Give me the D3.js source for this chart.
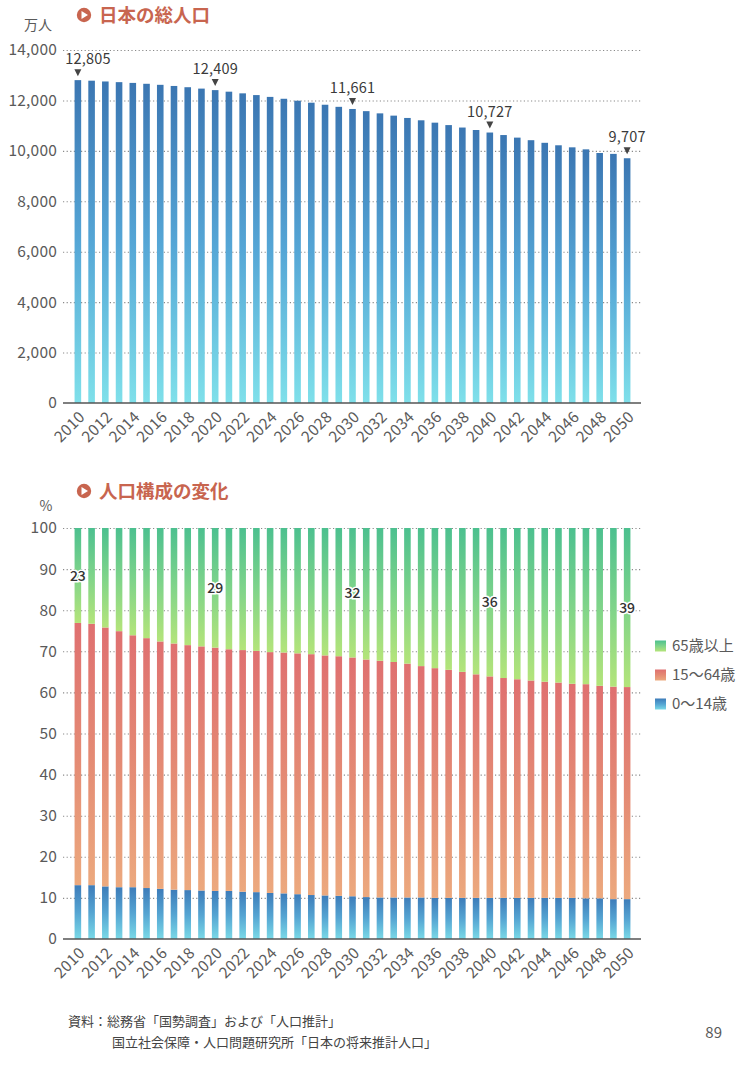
<!DOCTYPE html>
<html>
<head>
<meta charset="utf-8">
<script src="https://cdn.jsdelivr.net/npm/d3@7/dist/d3.min.js"></script>
<style>
	body { margin: 0; background: #fff; }
	svg text { font-family: "Noto Sans CJK JP", "Noto Sans", sans-serif; }
</style>
</head>
<body>
<svg id="page" width="738" height="1065"></svg>
<script>
// categories
const years = [2010, 2011, 2012, 2013, 2014, 2015, 2016, 2017, 2018, 2019,
	2020, 2021, 2022, 2023, 2024, 2025, 2026, 2027, 2028, 2029,
	2030, 2031, 2032, 2033, 2034, 2035, 2036, 2037, 2038, 2039,
	2040, 2041, 2042, 2043, 2044, 2045, 2046, 2047, 2048, 2049, 2050];
const yearTicks = [2010, 2012, 2014, 2016, 2018, 2020, 2022, 2024, 2026, 2028, 2030,
	2032, 2034, 2036, 2038, 2040, 2042, 2044, 2046, 2048, 2050];

// 日本の総人口 (万人)
const population = [12805, 12783, 12752, 12725, 12695, 12660, 12619, 12574, 12524, 12469,
	12409, 12347, 12281, 12212, 12140, 12066, 11989, 11910, 11829, 11746,
	11661, 11575, 11487, 11397, 11305, 11212, 11118, 11022, 10925, 10827,
	10727, 10627, 10525, 10423, 10319, 10221, 10140, 10060, 9915, 9880, 9707];
const popTicks = [0, 2000, 4000, 6000, 8000, 10000, 12000, 14000];
const popCallouts = [2010, 2020, 2030, 2040, 2050];

// 人口構成 (%)
const age0to14 = [13.1, 13.1, 12.8, 12.6, 12.6, 12.4, 12.2, 12.0, 11.9, 11.8,
	11.7, 11.7, 11.5, 11.4, 11.2, 11.1, 10.9, 10.7, 10.6, 10.5,
	10.4, 10.2, 10.1, 10.1, 10.1, 10.1, 10.0, 10.0, 10.0, 10.0,
	10.0, 10.0, 10.0, 10.0, 10.0, 10.0, 10.0, 9.9, 9.9, 9.7, 9.7];
const age15to64 = [63.8, 63.6, 63.0, 62.3, 61.3, 60.8, 60.2, 59.9, 59.6, 59.4,
	59.2, 58.8, 58.8, 58.7, 58.6, 58.6, 58.6, 58.6, 58.4, 58.3,
	58.1, 57.8, 57.6, 57.3, 56.9, 56.3, 55.9, 55.5, 55.0, 54.4,
	53.9, 53.5, 53.2, 52.9, 52.6, 52.4, 52.1, 52.1, 51.7, 51.7, 51.6];
const age65plus = [23.1, 23.3, 24.2, 25.1, 26.1, 26.8, 27.6, 28.1, 28.5, 28.8,
	29.1, 29.5, 29.7, 29.9, 30.2, 30.3, 30.5, 30.7, 31.0, 31.2,
	31.5, 32.0, 32.3, 32.6, 33.0, 33.6, 34.1, 34.5, 35.0, 35.6,
	36.1, 36.5, 36.8, 37.1, 37.4, 37.6, 37.9, 38.0, 38.4, 38.6, 38.7];
const shareTicks = [0, 10, 20, 30, 40, 50, 60, 70, 80, 90, 100];
const shareCallouts = [2010, 2020, 2030, 2040, 2050];
const ageGroups = ["0〜14歳", "15〜64歳", "65歳以上"];
const legendOrder = ["65歳以上", "15〜64歳", "0〜14歳"];

(function() {
	const svg = d3.select("#page");
	const titleColor = "#c8654f";
	const textColor = "#5a5a5a";

	const defs = svg.append("defs");
	function grad(id, top, mid, bottom) {
		const g = defs.append("linearGradient").attr("id", id)
			.attr("x1", 0).attr("y1", 0).attr("x2", 0).attr("y2", 1);
		g.append("stop").attr("offset", "0%").attr("stop-color", top);
		g.append("stop").attr("offset", "50%").attr("stop-color", mid);
		g.append("stop").attr("offset", "100%").attr("stop-color", bottom);
	}
	grad("g-pop", "#3b76b2", "#55a6d6", "#7fe0ea");
	grad("g-young", "#3d7cb9", "#55a4d2", "#7ad9e7");
	grad("g-work", "#df7070", "#e48a74", "#eca97e");
	grad("g-old", "#4cc08f", "#7fd48a", "#b4e47a");
	const groupFill = {"0〜14歳": "url(#g-young)", "15〜64歳": "url(#g-work)", "65歳以上": "url(#g-old)"};

	const x = d3.scaleBand().domain(years).range([71, 634]).paddingInner(0.52).paddingOuter(0.26);
	const bw = x.bandwidth();
	const cx = d => x(d) + bw / 2;

	function title(y, label) {
		const g = svg.append("g");
		g.append("circle").attr("cx", 84).attr("cy", y).attr("r", 7.2).attr("fill", titleColor);
		g.append("path").attr("d", `M${81.5},${y - 4} L${88},${y} L${81.5},${y + 4} Z`).attr("fill", "#fff");
		g.append("text").attr("x", 99).attr("y", y).attr("dy", "0.36em")
			.attr("font-size", 18.5).attr("font-weight", 700).attr("fill", titleColor).text(label);
	}

	function yAxis(scale, ticks, fmt) {
		const g = svg.append("g").attr("transform", "translate(63,0)")
			.call(d3.axisLeft(scale).tickValues(ticks).tickSize(-578).tickPadding(6).tickFormat(fmt));
		g.select(".domain").remove();
		g.selectAll(".tick line")
			.attr("stroke", "#8a8a8a").attr("stroke-width", 1.1).attr("stroke-dasharray", "1.2,2.4")
			.filter(d => d === 0).remove();
		g.selectAll(".tick text").attr("font-size", 15.5).attr("fill", textColor)
			.attr("font-family", "\"Noto Sans CJK JP\", sans-serif").attr("letter-spacing", 0.2);
	}

	function baseline(scale) {
		svg.append("line").attr("x1", 63).attr("x2", 641)
			.attr("y1", scale(0)).attr("y2", scale(0))
			.attr("stroke", "#555").attr("stroke-width", 1.6);
	}

	function xAxis(y0) {
		const g = svg.append("g").attr("transform", `translate(0,${y0})`)
			.call(d3.axisBottom(x).tickValues(yearTicks).tickSize(0).tickFormat(d3.format("d")));
		g.select(".domain").remove();
		g.selectAll(".tick text")
			.attr("font-size", 15.5).attr("fill", textColor).attr("text-anchor", "end")
			.attr("y", 0).attr("dy", null).attr("letter-spacing", 0.3)
			.attr("transform", "translate(8,15) rotate(-45)");
	}

	// ---- 日本の総人口 ----
	title(15, "日本の総人口");
	svg.append("text").attr("x", 24).attr("y", 25).attr("dy", "0.35em")
		.attr("font-size", 14).attr("fill", textColor).text("万人");

	const yPop = d3.scaleLinear().domain([0, 14000]).range([403, 50]);
	yAxis(yPop, popTicks, d3.format(","));

	svg.append("g").selectAll("rect").data(years).join("rect")
		.attr("x", d => x(d)).attr("width", bw)
		.attr("y", (d, i) => yPop(population[i]))
		.attr("height", (d, i) => yPop(0) - yPop(population[i]))
		.attr("fill", "url(#g-pop)");
	baseline(yPop);
	xAxis(403);

	const callG = svg.append("g");
	popCallouts.forEach(yr => {
		const i = years.indexOf(yr);
		const top = yPop(population[i]);
		const px = cx(yr);
		callG.append("path")
			.attr("d", `M${px - 3.5},${top - 11} L${px + 3.5},${top - 11} L${px},${top - 4} Z`)
			.attr("fill", "#444");
		callG.append("text").attr("x", Math.max(px, 88)).attr("y", top - 16)
			.attr("text-anchor", "middle").attr("font-size", 14.5)
			.attr("fill", "#3a3a3a").attr("letter-spacing", 0.2).text(d3.format(",")(population[i]));
	});

	// ---- 人口構成の変化 ----
	title(491, "人口構成の変化");
	svg.append("text").attr("x", 46).attr("y", 506).attr("dy", "0.35em")
		.attr("text-anchor", "middle").attr("font-size", 14).attr("fill", textColor).text("%");

	const yShare = d3.scaleLinear().domain([0, 100]).range([939, 528]);
	yAxis(yShare, shareTicks, d3.format("d"));

	const table = years.map((yr, i) => ({year: yr, "0〜14歳": age0to14[i], "15〜64歳": age15to64[i], "65歳以上": age65plus[i]}));
	const stacked = d3.stack().keys(ageGroups)(table);
	const total = d => d.data["0〜14歳"] + d.data["15〜64歳"] + d.data["65歳以上"];
	const barsG = svg.append("g");
	stacked.forEach(layer => {
		barsG.append("g").selectAll("rect").data(layer).join("rect")
			.attr("x", d => x(d.data.year)).attr("width", bw)
			.attr("y", d => yShare(d[1] / total(d) * 100))
			.attr("height", d => yShare(d[0] / total(d) * 100) - yShare(d[1] / total(d) * 100))
			.attr("fill", groupFill[layer.key]);
	});
	baseline(yShare);
	xAxis(939);

	const oldLayer = stacked[2];
	shareCallouts.forEach(yr => {
		const d = oldLayer[years.indexOf(yr)];
		svg.append("text").attr("x", cx(yr)).attr("y", yShare((d[0] + d[1]) / 2))
			.attr("dy", "0.36em").attr("text-anchor", "middle")
			.attr("font-size", 14).attr("font-weight", 500).attr("fill", "#333")
			.attr("stroke", "#fff").attr("stroke-width", 3).attr("paint-order", "stroke")
			.text(Math.round(d.data["65歳以上"]));
	});

	// legend
	const leg = svg.append("g").selectAll("g").data(legendOrder).join("g")
		.attr("transform", (d, i) => `translate(655,${646 + i * 29})`);
	leg.append("rect").attr("x", 0).attr("y", -5.5).attr("width", 11).attr("height", 11)
		.attr("fill", d => groupFill[d]);
	leg.append("text").attr("x", 17).attr("dy", "0.36em").attr("font-size", 15)
		.attr("fill", textColor).text(d => d);

	// source
	svg.append("text").attr("x", 68).attr("y", 1021).attr("dy", "0.36em")
		.attr("font-size", 13).attr("fill", "#444").text("資料：総務省「国勢調査」および「人口推計」");
	svg.append("text").attr("x", 112).attr("y", 1042).attr("dy", "0.36em")
		.attr("font-size", 13).attr("fill", "#444").text("国立社会保障・人口問題研究所「日本の将来推計人口」");
	svg.append("text").attr("x", 722).attr("y", 1033).attr("dy", "0.36em").attr("text-anchor", "end")
		.attr("font-size", 15).attr("fill", textColor).text("89");
})();
</script>
</body>
</html>
